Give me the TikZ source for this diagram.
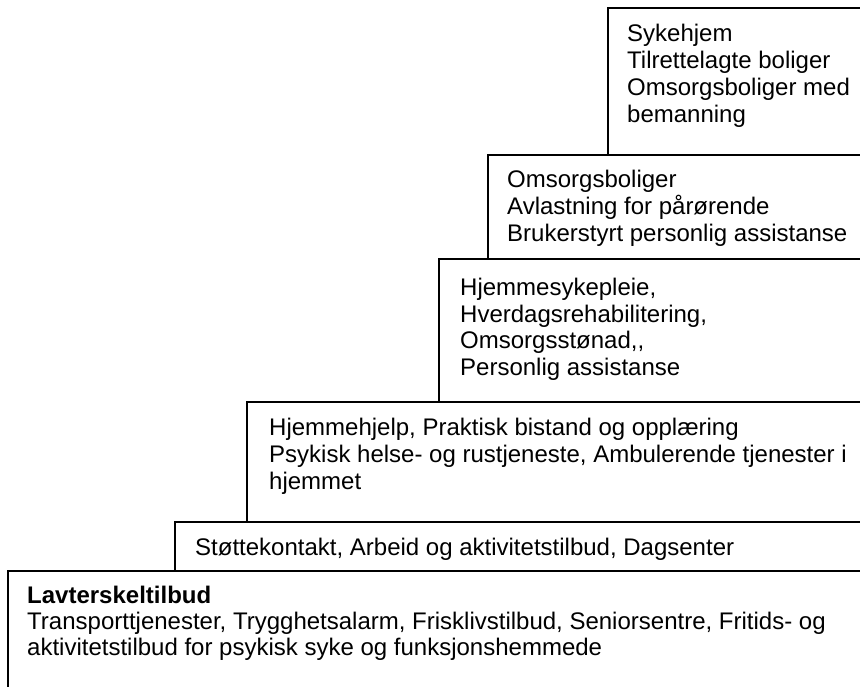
\documentclass[tikz,border=0pt]{standalone}
\usepackage{fontspec}
\setmainfont{Liberation Sans}
\begin{document}
\begin{tikzpicture}[x=1pt,y=-1pt,
  boxframe/.style={draw=black, line width=1.8pt, anchor=north west, inner sep=0pt, fill=white},
  txt/.style={anchor=base west, inner sep=0pt, font=\fontsize{24}{27}\selectfont, text=black}]
\useasboundingbox (0,0) rectangle (860,686);
\fill[white] (0,0) rectangle (860,686);
\clip (0,0) rectangle (860,686);
% boxes (bottom to top)
\node[boxframe, minimum width=863pt, minimum height=130pt] (b1) at (7,570) {};
\node[boxframe, minimum width=696pt, minimum height=49pt] (b2) at (174,521) {};
\node[boxframe, minimum width=624pt, minimum height=120pt] (b3) at (246,401) {};
\node[boxframe, minimum width=432pt, minimum height=143pt] (b4) at (438,258) {};
\node[boxframe, minimum width=383pt, minimum height=104pt] (b5) at (487,154) {};
\node[boxframe, minimum width=263pt, minimum height=147pt] (b6) at (607,7) {};
% box 6
\node[txt] (t6a) at (627,41) {Sykehjem};
\node[txt] (t6b) at (627,68) {Tilrettelagte boliger};
\node[txt] (t6c) at (627,95) {Omsorgsboliger med};
\node[txt] (t6d) at (627,122) {bemanning};
% box 5
\node[txt] (t5a) at (507,187) {Omsorgsboliger};
\node[txt] (t5b) at (507,214) {Avlastning for pårørende};
\node[txt] (t5c) at (507,241) {Brukerstyrt personlig assistanse};
% box 4
\node[txt] (t4a) at (460,295) {Hjemmesykepleie,};
\node[txt] (t4b) at (460,322) {Hverdagsrehabilitering,};
\node[txt] (t4c) at (460,348) {Omsorgsstønad{,}{,}};
\node[txt] (t4d) at (460,375) {Personlig assistanse};
% box 3
\node[txt] (t3a) at (269,435) {Hjemmehjelp, Praktisk bistand og opplæring};
\node[txt] (t3b) at (269,462) {Psykisk helse- og rustjeneste, Ambulerende tjenester i};
\node[txt] (t3c) at (269,489) {hjemmet};
% box 2
\node[txt] (t2a) at (195,555) {Støttekontakt, Arbeid og aktivitetstilbud, Dagsenter};
% box 1
\node[txt, font=\fontsize{24}{27}\selectfont\bfseries] (t1a) at (27,603) {Lavterskeltilbud};
\node[txt] (t1b) at (27,629) {Transporttjenester, Trygghetsalarm, Frisklivstilbud, Seniorsentre, Fritids- og};
\node[txt] (t1c) at (27,655) {aktivitetstilbud for psykisk syke og funksjonshemmede};
\end{tikzpicture}
\end{document}
